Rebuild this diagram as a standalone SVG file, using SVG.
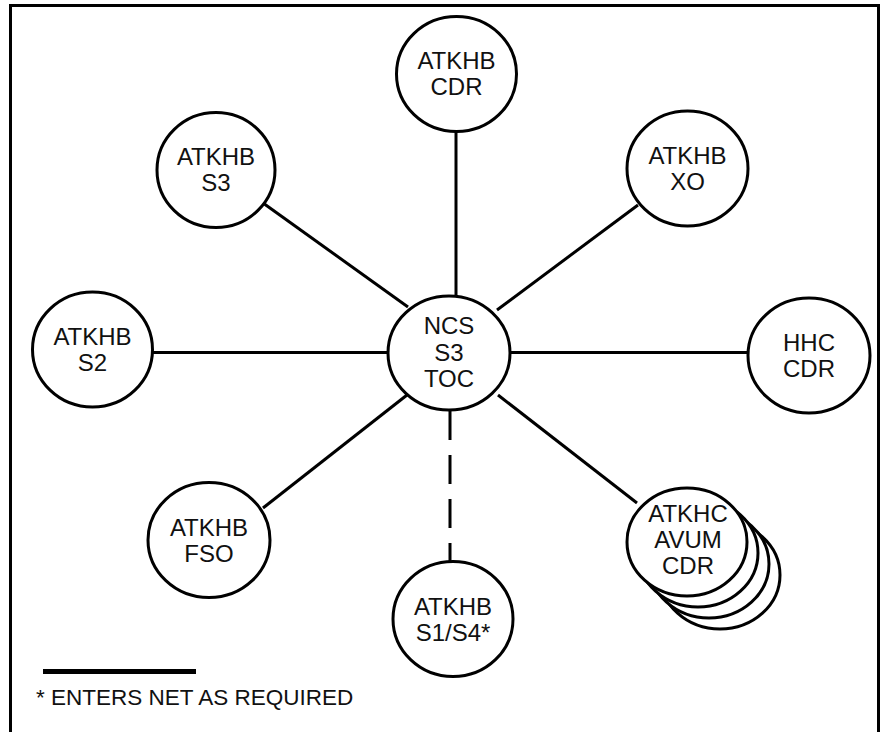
<svg xmlns="http://www.w3.org/2000/svg" width="882" height="732" viewBox="0 0 882 732">
<style>
.n{fill:#fff;stroke:#000;stroke-width:3}
.t{font-family:"Liberation Sans",Arial,sans-serif;font-size:24px;fill:#111;text-anchor:middle}
.c{stroke:#000;stroke-width:3;fill:none}
.d{stroke-dasharray:29 15}
</style>
<rect x="0" y="0" width="882" height="732" fill="#fff"/>
<rect x="10.5" y="5.5" width="868" height="740" fill="none" stroke="#000" stroke-width="3"/>
<g id="connectors">
<line class="c" x1="456" y1="132" x2="456" y2="297"/>
<line class="c" x1="263" y1="203" x2="408" y2="307"/>
<line class="c" x1="638" y1="205" x2="497" y2="310"/>
<line class="c" x1="153" y1="352.5" x2="388" y2="352.5"/>
<line class="c" x1="510" y1="352.5" x2="748" y2="352.5"/>
<line class="c" x1="263" y1="508" x2="407" y2="395"/>
<line class="c" x1="498" y1="395" x2="637" y2="503"/>
<line class="c d" x1="450" y1="411" x2="450" y2="562"/>
</g>
<g id="n-cdr">
<ellipse class="n" cx="456.5" cy="74" rx="60" ry="57.5"/>
<text class="t" x="456.5" y="69">ATKHB</text>
<text class="t" x="456.5" y="95">CDR</text>
</g>
<g id="n-s3">
<ellipse class="n" cx="216" cy="170" rx="59" ry="57.5"/>
<text class="t" x="216" y="165">ATKHB</text>
<text class="t" x="216" y="191">S3</text>
</g>
<g id="n-xo">
<ellipse class="n" cx="687.5" cy="168.5" rx="60.5" ry="57.5"/>
<text class="t" x="687.5" y="164">ATKHB</text>
<text class="t" x="687.5" y="190">XO</text>
</g>
<g id="n-s2">
<ellipse class="n" cx="92.5" cy="349.5" rx="60" ry="57.5"/>
<text class="t" x="92.5" y="345">ATKHB</text>
<text class="t" x="92.5" y="371">S2</text>
</g>
<g id="n-ncs">
<ellipse class="n" cx="449" cy="353" rx="61" ry="57"/>
<text class="t" x="449" y="334">NCS</text>
<text class="t" x="449" y="361">S3</text>
<text class="t" x="449" y="387">TOC</text>
</g>
<g id="n-hhc">
<ellipse class="n" cx="809" cy="355.5" rx="61" ry="57.5"/>
<text class="t" x="809" y="351">HHC</text>
<text class="t" x="809" y="377">CDR</text>
</g>
<g id="n-fso">
<ellipse class="n" cx="209" cy="540" rx="61" ry="57.5"/>
<text class="t" x="209" y="536">ATKHB</text>
<text class="t" x="209" y="562">FSO</text>
</g>
<g id="n-s1s4">
<ellipse class="n" cx="453" cy="619" rx="60" ry="57.5"/>
<text class="t" x="453" y="615">ATKHB</text>
<text class="t" x="453" y="641">S1/S4*</text>
</g>
<g id="n-avum">
<ellipse class="n" cx="720" cy="575" rx="60" ry="54"/>
<ellipse class="n" cx="709" cy="564" rx="60" ry="54"/>
<ellipse class="n" cx="698" cy="553" rx="60" ry="54"/>
<ellipse class="n" cx="687" cy="542" rx="60" ry="54"/>
<text class="t" x="688" y="522">ATKHC</text>
<text class="t" x="688" y="548">AVUM</text>
<text class="t" x="688" y="574">CDR</text>
</g>
<g id="legend">
<rect x="43" y="669" width="153" height="5" fill="#000"/>
<text x="36" y="705" font-family="'Liberation Sans',Arial,sans-serif" font-size="22.5" fill="#111">* ENTERS NET AS REQUIRED</text>
</g>
</svg>
